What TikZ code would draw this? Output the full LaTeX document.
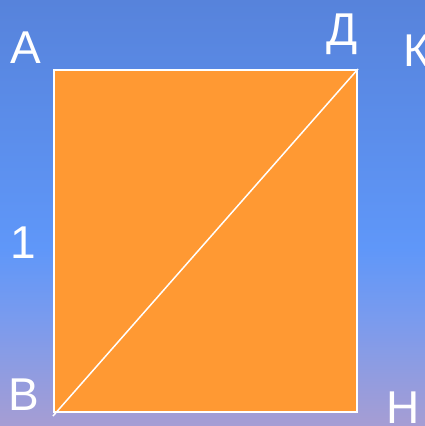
\documentclass[tikz,border=0pt]{standalone}
\usepackage{fontspec}
\setmainfont{Liberation Sans}
\definecolor{bgtop}{RGB}{87,131,219}
\definecolor{bgmid}{RGB}{95,151,249}
\definecolor{bgmid2}{RGB}{122,155,238}
\definecolor{bgbot}{RGB}{166,157,211}
\definecolor{fillor}{RGB}{255,153,51}
\tikzset{
  lbl/.style={anchor=base west, inner sep=0pt, text=white, font=\fontsize{46}{46}\selectfont},
  edge/.style={draw=white, line width=2pt}
}
\begin{document}
\begin{tikzpicture}[x=1pt,y=-1pt]
\useasboundingbox (0,0) rectangle (425,426);
\shade[top color=bgtop, bottom color=bgmid] (0,0) rectangle (425,248);
\shade[top color=bgmid, bottom color=bgmid2] (0,247.5) rectangle (425,320);
\shade[top color=bgmid2, bottom color=bgbot] (0,319.5) rectangle (425,426);
\node[draw=white, line width=2pt, fill=fillor, minimum width=303pt, minimum height=342pt, inner sep=0pt, anchor=north west] (box) at (53,69) {};
\coordinate (bl) at (53,416);
\draw[white, line width=1.5pt] (bl) -- (box.north east);
\node[lbl] (A) at (10,63) {А};
\node[lbl] (D) at (326,45) {Д};
\node[lbl] (K) at (403,66) {К};
\node[lbl] (one) at (10,258) {1};
\node[lbl] (B) at (8,410) {В};
\node[lbl] (N) at (386,423) {Н};
\end{tikzpicture}
\end{document}
